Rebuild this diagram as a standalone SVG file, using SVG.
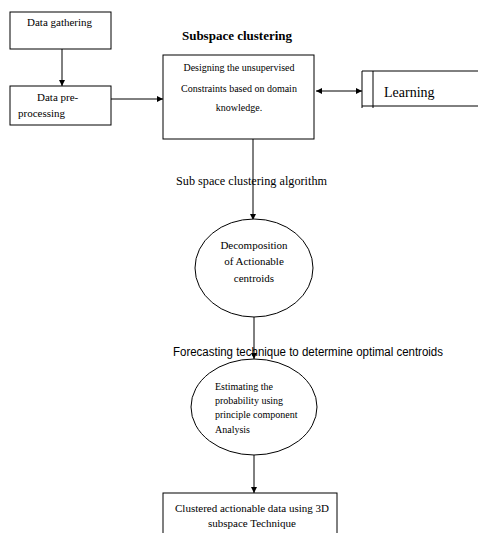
<svg xmlns="http://www.w3.org/2000/svg" width="478" height="533" viewBox="0 0 478 533">
<style>
.box{fill:#fff;stroke:#000;stroke-width:1}
.ln{fill:none;stroke:#000;stroke-width:1}
.t{font-family:"Liberation Serif",serif;font-size:11px;fill:#000}
.c{text-anchor:middle}
</style>
<defs>
<marker id="ah" viewBox="0 0 8 8" refX="8" refY="4" markerWidth="6" markerHeight="6" orient="auto-start-reverse" markerUnits="userSpaceOnUse">
<path d="M0,0 L8,4 L0,8 z" fill="#000"/>
</marker>
</defs>
<rect width="478" height="533" fill="#fff"/>
<g id="connectors">
<line class="ln" x1="62" y1="49" x2="62" y2="86" marker-end="url(#ah)"/>
<line class="ln" x1="111" y1="99" x2="163" y2="99" marker-end="url(#ah)"/>
<line class="ln" x1="316" y1="91" x2="362" y2="91" marker-start="url(#ah)" marker-end="url(#ah)"/>
<line class="ln" x1="253" y1="139" x2="253" y2="220" marker-end="url(#ah)"/>
<line class="ln" x1="254" y1="317" x2="254" y2="359" marker-end="url(#ah)"/>
<line class="ln" x1="254" y1="455" x2="254" y2="493" marker-end="url(#ah)"/>
<text x="176" y="185" style="font-family:'Liberation Serif',serif;font-size:13px" textLength="151" lengthAdjust="spacingAndGlyphs">Sub space clustering algorithm</text>
<text x="173" y="356" style="font-family:'Liberation Sans',sans-serif;font-size:12px" textLength="270" lengthAdjust="spacingAndGlyphs">Forecasting technique to determine optimal centroids</text>
</g>
<g id="data-gathering">
<rect class="box" x="10" y="12" width="101" height="37"/>
<text class="t" x="27" y="26">Data gathering</text>
</g>
<g id="data-preprocessing">
<rect class="box" x="10" y="86" width="101" height="39"/>
<text class="t" x="37" y="101">Data pre-</text>
<text class="t" x="18" y="117">processing</text>
</g>
<g id="subspace-clustering">
<text x="237" y="40" style="font-family:'Liberation Serif',serif;font-size:13px;font-weight:bold" text-anchor="middle">Subspace clustering</text>
<rect class="box" x="163" y="55" width="151" height="84"/>
<text class="t c" x="239" y="71" style="font-size:10px">Designing the unsupervised</text>
<text class="t c" x="239" y="92" style="font-size:10px">Constraints based on domain</text>
<text class="t c" x="239" y="111" style="font-size:10px">knowledge.</text>
</g>
<g id="learning">
<line class="ln" x1="362" y1="71" x2="478" y2="71"/>
<line class="ln" x1="362" y1="106" x2="478" y2="106"/>
<line class="ln" x1="362" y1="71" x2="362" y2="108"/>
<line class="ln" x1="373" y1="71" x2="373" y2="108"/>
<text x="384" y="97" style="font-family:'Liberation Serif',serif;font-size:14px">Learning</text>
</g>
<g id="decomposition">
<ellipse class="box" cx="254" cy="268" rx="59" ry="49"/>
<text class="t c" x="254" y="249">Decomposition</text>
<text class="t c" x="254" y="265">of Actionable</text>
<text class="t c" x="254" y="282">centroids</text>
</g>
<g id="estimating">
<ellipse class="box" cx="254" cy="407" rx="63" ry="48"/>
<text class="t" x="215" y="390" style="font-size:10px">Estimating the</text>
<text class="t" x="215" y="404" style="font-size:10px">probability using</text>
<text class="t" x="215" y="418" style="font-size:10px">principle component</text>
<text class="t" x="215" y="433" style="font-size:10px">Analysis</text>
</g>
<g id="clustered">
<rect class="box" x="163" y="493" width="174" height="45"/>
<text class="t c" x="252" y="512">Clustered actionable data using 3D</text>
<text class="t c" x="252" y="527">subspace Technique</text>
</g>
</svg>
